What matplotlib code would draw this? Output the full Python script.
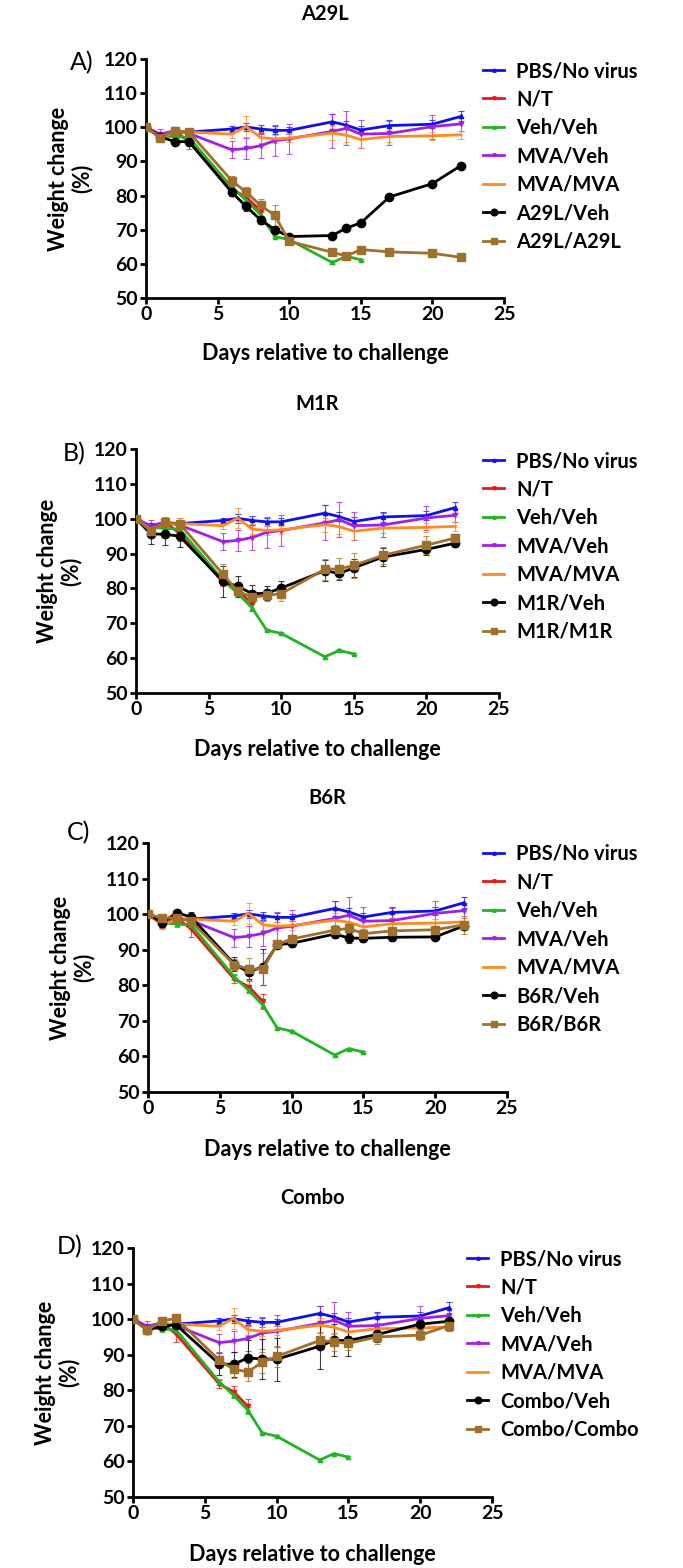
import numpy as np
import matplotlib
matplotlib.use("Agg")
import matplotlib.pyplot as plt

plt.rcParams['font.family'] = ['Lato', 'DejaVu Sans']

# ---- data ----
days = [0, 1, 2, 3, 6, 7, 8, 9, 10, 13, 14, 15, 17, 20, 22]
days_nt = [0, 1, 2, 3, 6, 7, 8]
days_veh = [0, 1, 2, 3, 6, 7, 8, 9, 10, 13, 14, 15]

pbs = [100, 97.4, 98.4, 98.6, 99.5, 100.1, 99.5, 99.1, 99.1, 101.6, 100.6, 99.2, 100.5, 100.9, 103.2]
pbs_err = [0.3, 1.0, 1.0, 0.8, 0.8, 1.2, 1.2, 1.2, 1.0, 2.2, 1.2, 1.2, 1.5, 1.2, 1.5]
nt = [100, 97.0, 99.0, 95.8, 81.8, 79.6, 75.5]
nt_err = [0.3, 1.0, 1.0, 2.2, 1.2, 1.5, 2.0]
vehveh = [100, 97.6, 97.2, 97.0, 82.4, 78.6, 74.4, 68.0, 67.1, 60.4, 62.2, 61.2]
vehveh_err = [0.3, 0.8, 0.8, 0.8, 0.8, 0.8, 1.0, 0.3, 0.3, 0.3, 0.3, 0.3]
mva_veh = [100, 98.0, 99.0, 98.2, 93.4, 93.8, 94.6, 96.1, 96.6, 98.8, 99.7, 98.0, 98.2, 100.2, 101.0]
mva_veh_err = [0.3, 1.5, 1.2, 1.0, 2.5, 3.0, 3.5, 4.5, 4.5, 5.0, 5.0, 4.0, 3.5, 3.5, 2.0]
mva_mva = [100, 96.8, 98.6, 98.6, 98.0, 100.2, 97.0, 96.6, 96.8, 98.3, 97.7, 96.4, 97.3, 97.5, 97.8]
mva_mva_err = [0.3, 1.0, 1.0, 1.0, 1.0, 3.0, 1.5, 1.2, 1.2, 2.0, 2.0, 2.5, 1.5, 1.2, 1.2]

a29l_veh = [100, 97.2, 95.8, 95.8, 80.9, 76.8, 72.9, 70.0, 68.0, 68.3, 70.5, 72.0, 79.6, 83.5, 88.8]
a29l_veh_err = [0.3, 0.8, 0.8, 0.8, 1.0, 1.2, 1.2, 0.8, 0.5, 0.5, 0.5, 0.5, 0.5, 0.5, 0.5]
a29l_a29l = [100, 97.0, 99.0, 98.6, 84.3, 81.0, 77.1, 74.2, 66.6, 63.4, 62.3, 64.2, 63.5, 63.1, 61.9]
a29l_a29l_err = [0.3, 1.0, 1.0, 1.0, 1.5, 1.5, 2.0, 3.0, 0.5, 0.5, 0.5, 0.5, 0.5, 0.5, 0.5]

m1r_veh = [100, 95.7, 95.5, 95.0, 82.0, 80.6, 78.5, 78.6, 80.1, 85.1, 84.3, 85.9, 89.0, 91.2, 93.0]
m1r_veh_err = [0.3, 3.0, 3.0, 3.2, 4.5, 3.0, 2.5, 2.0, 2.0, 3.0, 2.0, 2.5, 2.5, 1.5, 1.0]
m1r_m1r = [100, 96.5, 99.0, 98.6, 84.0, 79.2, 77.5, 78.0, 78.5, 85.5, 85.6, 86.6, 89.5, 92.4, 94.5]
m1r_m1r_err = [0.3, 2.0, 1.5, 1.5, 3.0, 1.5, 1.5, 1.5, 2.0, 3.0, 3.0, 3.5, 2.5, 2.5, 1.0]

b6r_veh = [100, 97.6, 100.4, 99.2, 86.0, 83.7, 85.2, 91.4, 91.8, 94.4, 93.3, 93.2, 93.5, 93.6, 96.7]
b6r_veh_err = [0.3, 1.0, 0.5, 1.5, 2.0, 2.0, 5.0, 1.0, 1.0, 1.0, 1.5, 1.0, 1.0, 1.0, 1.0]
b6r_b6r = [100, 98.9, 99.0, 98.0, 85.8, 84.6, 84.6, 91.5, 93.0, 95.5, 96.0, 94.5, 95.3, 95.6, 97.0]
b6r_b6r_err = [0.3, 1.0, 1.0, 1.5, 1.5, 3.0, 4.5, 1.0, 1.0, 1.5, 1.5, 1.2, 1.2, 1.2, 2.5]

combo_veh = [100, 97.0, 98.0, 98.4, 87.4, 87.3, 89.1, 88.8, 88.7, 92.4, 94.0, 94.0, 95.7, 98.6, 99.4]
combo_veh_err = [0.3, 1.0, 1.0, 1.0, 3.0, 3.5, 5.0, 5.5, 6.0, 6.5, 4.5, 4.5, 2.0, 1.5, 1.0]
combo_combo = [100, 96.9, 99.5, 100.2, 88.5, 85.9, 85.2, 87.9, 89.5, 94.0, 93.6, 93.2, 95.0, 95.5, 98.2]
combo_combo_err = [0.3, 1.0, 1.0, 0.8, 2.0, 2.5, 2.5, 3.0, 3.0, 2.0, 2.5, 2.0, 2.0, 1.5, 1.5]

panels = [
    ("A29L", "A)", "A29L", a29l_veh, a29l_veh_err, a29l_a29l, a29l_a29l_err),
    ("M1R", "B)", "M1R", m1r_veh, m1r_veh_err, m1r_m1r, m1r_m1r_err),
    ("B6R", "C)", "B6R", b6r_veh, b6r_veh_err, b6r_b6r, b6r_b6r_err),
    ("Combo", "D)", "Combo", combo_veh, combo_veh_err, combo_combo, combo_combo_err),
]

# ---- layout (pixels) ----
W, H = 683, 1568
# left, right, top, bottom of each axes
boxes = [(146, 504, 59, 298), (136, 499, 449, 693), (148, 507, 843, 1092), (133, 492, 1248, 1497)]
legend_xy = [(483, 61), (483, 451), (483, 844), (467, 1249)]
title_y = [14, 404, 798, 1198]
letter_xy = [(82, 63), (74, 454), (79, 833), (70, 1247)]

BLUE, RED, GREEN = "#1010e8", "#e81818", "#22b422"
PURPLE, ORANGE, BROWN = "#a020e6", "#ff8a1e", "#a0702a"

fig = plt.figure(figsize=(W / 100, H / 100), dpi=100)


def series(ax, x, y, err, color, label, marker, ms):
    ax.errorbar(x, y, yerr=err, fmt="none", ecolor=color, elinewidth=0.8,
                capsize=2, capthick=0.8, alpha=0.75, zorder=2)
    ax.plot(x, y, color=color, lw=2.0, marker=marker, ms=ms, label=label, zorder=3)


for i, (title, letter, name, veh, veh_err, vac, vac_err) in enumerate(panels):
    l, r, t, b = boxes[i]
    ax = fig.add_axes([l / W, 1 - b / H, (r - l) / W, (b - t) / H])

    series(ax, days, pbs, pbs_err, BLUE, "PBS/No virus", "^", 3)
    series(ax, days_nt, nt, nt_err, RED, "N/T", "v", 3)
    series(ax, days_veh, vehveh, vehveh_err, GREEN, "Veh/Veh", "^", 3)
    series(ax, days, mva_veh, mva_veh_err, PURPLE, "MVA/Veh", "v", 3)
    series(ax, days, mva_mva, mva_mva_err, ORANGE, "MVA/MVA", None, 0)
    series(ax, days, veh, veh_err, "black", f"{name}/Veh", "o", 6)
    series(ax, days, vac, vac_err, BROWN, f"{name}/{name}", "s", 6)

    ax.set_xlim(0, 25)
    ax.set_ylim(50, 120)
    ax.set_xticks(range(0, 26, 5))
    ax.set_yticks(range(50, 121, 10))
    for s in ["top", "right"]:
        ax.spines[s].set_visible(False)
    for s in ["left", "bottom"]:
        ax.spines[s].set_linewidth(2.0)
    ax.tick_params(direction="out", length=4, width=2.0, labelsize=14, pad=2)
    for lab in ax.get_xticklabels() + ax.get_yticklabels():
        lab.set_fontweight("bold")

    ax.set_ylabel("Weight change\n(%)", fontsize=15.5, fontweight="bold", linespacing=1.1)
    ax.yaxis.set_label_coords(-0.15, 0.5)
    ax.set_xlabel("Days relative to challenge", fontsize=15.5, fontweight="bold")
    ax.xaxis.set_label_coords(0.5, -0.19)

    lx, ly = legend_xy[i]
    ax.legend(loc="upper left", bbox_to_anchor=(lx / W, 1 - ly / H),
              bbox_transform=fig.transFigure, frameon=False, borderpad=0,
              borderaxespad=0, handlelength=1.05, handletextpad=0.6,
              labelspacing=0.42, prop={"size": 14.5, "weight": "bold"},
              markerscale=0.8)

    fig.text(((l + r) / 2) / W, 1 - title_y[i] / H, title, ha="center", va="center",
             fontsize=14.5, fontweight="bold")
    tx, ty = letter_xy[i]
    fig.text(tx / W, 1 - ty / H, letter, ha="center", va="center", fontsize=18)

fig.savefig("out.png", dpi=100)
